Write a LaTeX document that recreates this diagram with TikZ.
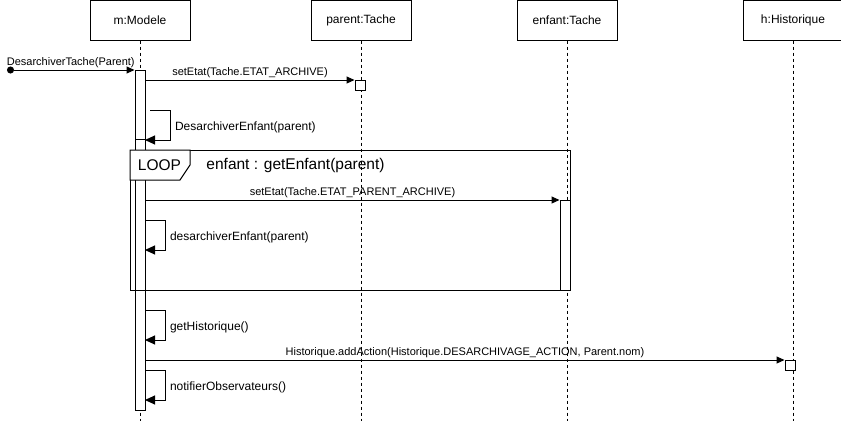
\documentclass[tikz,border=0pt]{standalone}
\usepackage{fontspec}
\setmainfont{Liberation Sans}
\usetikzlibrary{positioning, arrows.meta, calc}

\tikzset{
  obj/.style={draw, minimum width=100pt, minimum height=40pt, inner sep=0pt, font=\fontsize{12}{14}\selectfont},
  act/.style={draw, fill=white, minimum width=10pt, inner sep=0pt},
  lifeline/.style={dash pattern=on 3pt off 3pt},
  msg/.style={-{Triangle[length=8pt,width=7pt]}},
  selfmsg/.style={-{Triangle[length=10pt,width=9pt]}},
  lbl/.style={font=\fontsize{11}{13}\selectfont, inner sep=1.5pt},
  selflbl/.style={font=\fontsize{12}{14}\selectfont, inner sep=4.5pt, yshift=-2.5pt},
  framelbl/.style={font=\fontsize{15.5}{18}\selectfont, inner sep=0pt}
}

\begin{document}
\begin{tikzpicture}[x=1pt, y=-1pt, line width=1pt]
    \useasboundingbox (0,0) rectangle (841,421);

    \node[obj] (m) at (140,20) {m:Modele};
    \node[obj, right=120pt of m] (parent) {parent:Tache};
    \node[obj, right=105pt of parent] (enfant) {enfant:Tache};
    \node[obj, right=125pt of enfant] (h) {h:Historique};

    \coordinate (bottom) at (0,421);
    \foreach \o in {m, parent, enfant, h}
        \draw[lifeline] (\o.south) -- (\o |- bottom);

    \node[draw, minimum width=440pt, minimum height=140pt, inner sep=0pt, anchor=north west] (loop) at (130,150) {};

    \node[act, minimum height=340pt, anchor=north] (bm) at (140,70) {};
    \node[act, minimum height=151pt, anchor=north] (bm2) at (140,139) {};
    \node[act, minimum height=10pt, anchor=north] (pa) at (360,80) {};
    \node[act, minimum height=90pt, anchor=north] (be) at (565,200) {};
    \node[act, minimum height=10pt, anchor=north] (ha) at (790,360) {};

    \draw[fill=white] (loop.north west) -- ++(60,0) -- ++(0,15) -- ++(-10,15) -- ++(-50,0) -- cycle;
    \node[framelbl] (looptag) at (159.5,165.5) {LOOP};
    \node[framelbl] (guard) at (295.5,165.5) {enfant : getEnfant(parent)};

    \coordinate (start) at (7,70);
    \draw[{Circle[length=7pt]}-{Triangle[length=8pt,width=7pt]}] (start) -- (bm.north west)
        node[midway, above, lbl] {DesarchiverTache(Parent)};
    \draw[msg] (bm.east |- pa.north west) -- (pa.north west)
        node[midway, above, lbl] {setEtat(Tache.ETAT\_ARCHIVE)};

    \coordinate (d1) at (150,110);
    \draw[selfmsg] (d1) -| ++(20,30) node[pos=0.75, right, selflbl] {DesarchiverEnfant(parent)} -- ++(-25,0);

    \draw[msg] (bm.east |- be.north west) -- (be.north west)
        node[midway, above, lbl] {setEtat(Tache.ETAT\_PARENT\_ARCHIVE)};

    \coordinate (d2) at (145,220);
    \draw[selfmsg] (d2) -| ++(20,30) node[pos=0.75, right, selflbl] {desarchiverEnfant(parent)} -- ++(-20,0);

    \coordinate (g1) at (145,310);
    \draw[selfmsg] (g1) -| ++(20,30) node[pos=0.75, right, selflbl] {getHistorique()} -- ++(-20,0);

    \draw[msg] (bm.east |- ha.north west) -- (ha.north west)
        node[midway, above, lbl] {Historique.addAction(Historique.DESARCHIVAGE\_ACTION, Parent.nom)};

    \coordinate (n1) at (145,370);
    \draw[selfmsg] (n1) -| ++(20,30) node[pos=0.75, right, selflbl] {notifierObservateurs()} -- ++(-20,0);
\end{tikzpicture}
\end{document}
